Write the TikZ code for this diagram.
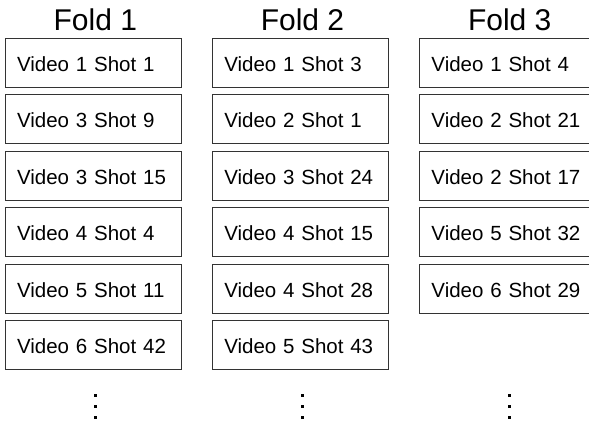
\documentclass[tikz,border=0pt]{standalone}
\usepackage{fontspec}
\setmainfont{Liberation Sans}
\begin{document}
\begin{tikzpicture}[x=1pt,y=1pt,
  shotbox/.style={draw=black!80, line width=1pt, rectangle, minimum height=49pt,
    text width=152.5pt, inner xsep=11.5pt, inner ysep=0pt, align=left,
    text height=17pt, text depth=0pt, font=\fontsize{20.5}{24}\selectfont},
  foldtitle/.style={anchor=base, inner sep=0pt, font=\fontsize{30}{34}\selectfont},
  dotmark/.style={fill=black, minimum size=3pt, inner sep=0pt, rectangle}]
\useasboundingbox (0,0) rectangle (589,-424);
\foreach \col/\x in {1/93.3, 2/300.5, 3/507.7} {
  \node[foldtitle] (t\col) at (\x+2,-30) {Fold \col};
  \node[dotmark] (d\col a) at (\x+2,-395.7) {};
  \node[dotmark] (d\col b) at (\x+2,-406.7) {};
  \node[dotmark] (d\col c) at (\x+2,-417) {};
}
\foreach \txt [count=\i from 0] in {Video 1 Shot 1, Video 3 Shot 9, Video 3 Shot 15, Video 4 Shot 4, Video 5 Shot 11, Video 6 Shot 42}
  \node[shotbox] (a\i) at (93.3,-62.8-56.5*\i) {\txt};
\foreach \txt [count=\i from 0] in {Video 1 Shot 3, Video 2 Shot 1, Video 3 Shot 24, Video 4 Shot 15, Video 4 Shot 28, Video 5 Shot 43}
  \node[shotbox] (b\i) at (300.5,-62.8-56.5*\i) {\txt};
\foreach \txt [count=\i from 0] in {Video 1 Shot 4, Video 2 Shot 21, Video 2 Shot 17, Video 5 Shot 32, Video 6 Shot 29}
  \node[shotbox] (c\i) at (507.7,-62.8-56.5*\i) {\txt};
\end{tikzpicture}
\end{document}
